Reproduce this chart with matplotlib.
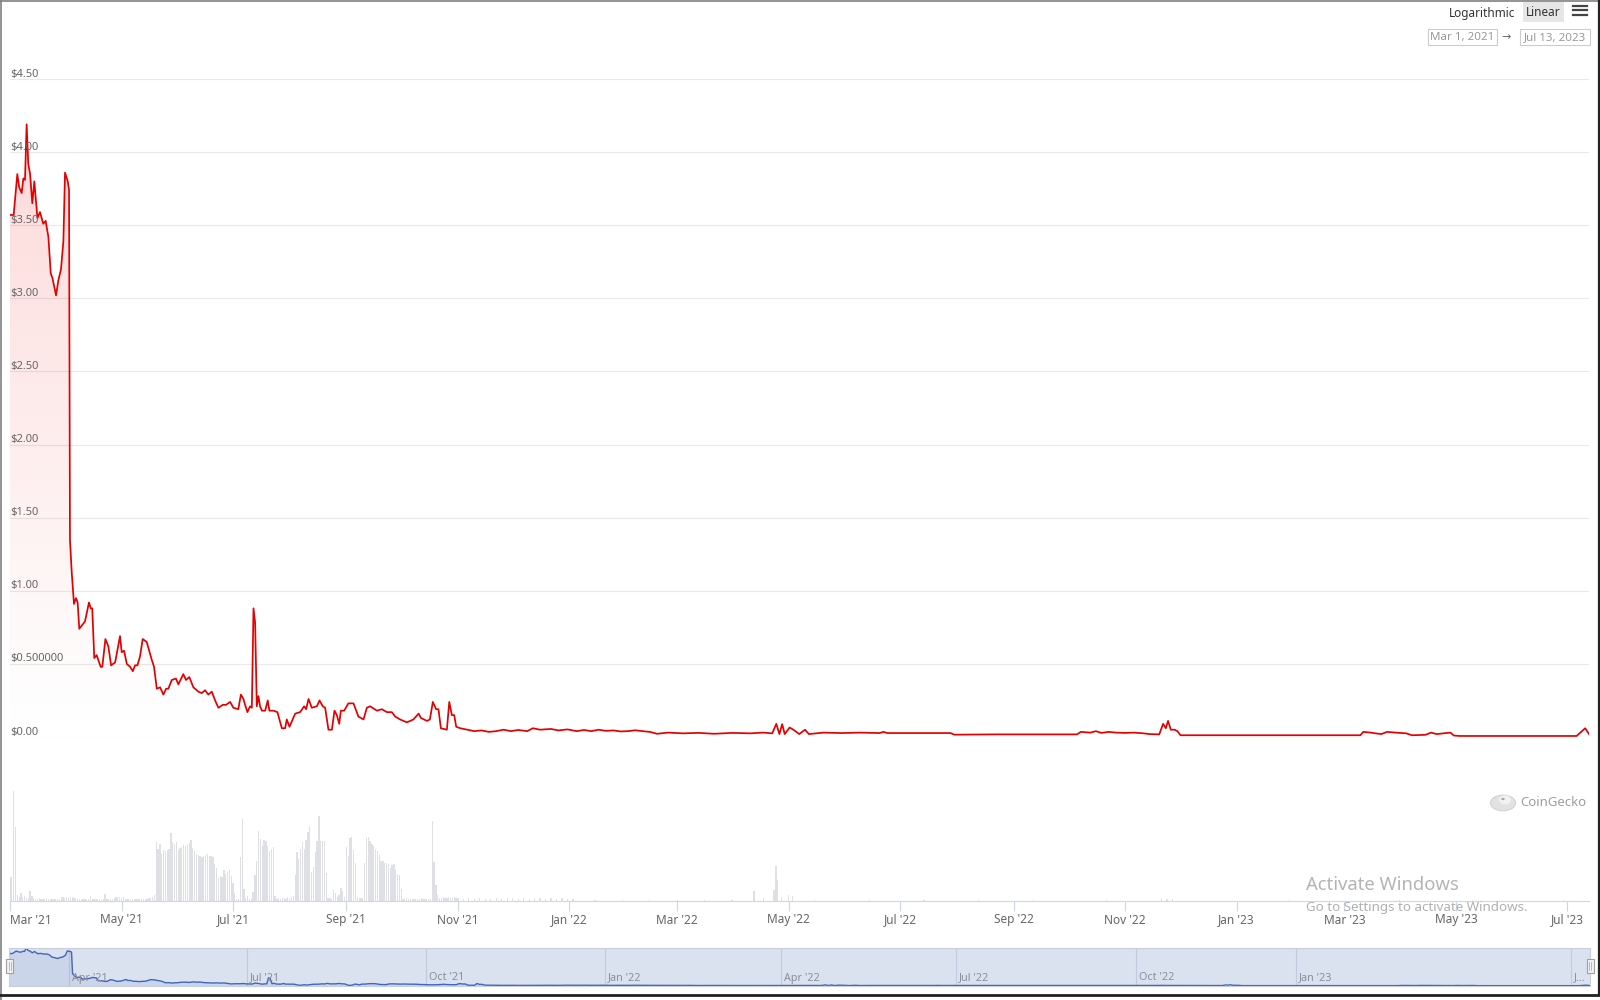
import numpy as np
import pandas as pd
import matplotlib
matplotlib.use("Agg")
import matplotlib.pyplot as plt
import matplotlib.dates as mdates
from matplotlib.patches import Rectangle, Circle, Ellipse
from matplotlib.lines import Line2D

plt.rcParams['font.family'] = ['Noto Sans', 'DejaVu Sans']

W, H = 1600, 1000
start = pd.Timestamp('2021-03-01')
end = pd.Timestamp('2023-07-13')

# price (USD), x = days after Mar 1, 2021
price_day = [0, 2, 4, 5, 6.4, 7.3, 8.2, 9.1, 10, 11, 12.2, 13.3, 15, 16.4, 18.2, 19.5, 21, 22.3,
             23.2, 25.2, 26.4, 27.9, 29.2, 30.1, 31.6, 32.3, 32.8, 33.8, 35, 36.1, 37, 37.9, 41,
             43.2, 44.2, 45, 46.1, 47.4, 49.6, 50.5, 52.2, 53.8, 55.3, 57.5, 60.2, 61.1, 62.4,
             63.9, 65.7, 67.2, 68.4, 69.7, 71.1, 72.6, 74.8, 77.5, 78.8, 80.3, 82.1, 83.9, 85.4,
             86.6, 88.5, 90.8, 92.1, 94.8, 96.3, 98.1, 100.3, 103.1, 104.9, 106.7, 108.5, 110.4,
             112.2, 114, 116.4, 118.2, 120.4, 122.2, 124.9, 126.3, 127.7, 128.6, 129.9, 131.3,
             132.3, 133.2, 134.1, 135, 135.9, 136.8, 137.8, 139.6, 141, 141.9, 144.1, 146.3,
             148.7, 150.5, 151.4, 152.9, 156, 158.7, 160.9, 162, 163.3, 165.1, 167.9, 169.3,
             171.1, 172.4, 174.2, 176.1, 177.5, 178.8, 180.1, 181, 182.8, 185.1, 187.9, 190.6,
             193.4, 195.2, 197, 200.7, 203.4, 206.2, 208.9, 210.7, 213.4, 217.1, 220.7, 223.5,
             224.8, 228.1, 229.7, 231.3, 233.1, 234.4, 235.7, 239, 240.3, 241.7, 243, 244.1,
             246.3,
             254, 258, 262, 266, 270, 274, 278, 283, 286, 290, 296, 300, 305,
             310, 314, 318, 322, 326, 330, 334, 338, 342, 346, 350, 354,
             360, 368, 377, 385, 395, 405, 412, 417, 419.2, 420.9, 422.4, 423.8, 426.5,
             428.5, 431.8, 434.9, 437, 445, 455, 465, 475.7, 477.8, 480, 495, 514.5, 516.6, 540,
             583.7, 585.8, 591, 594, 597, 601, 605, 610, 615, 620, 623.5, 628.7, 630.8, 632.3,
             633.5, 635, 637, 638.6, 640.3, 738.7, 740.3, 744.3, 747, 750.2, 753.3, 758, 763.8,
             766.9, 774.3, 777.4, 780.4, 787.9, 789.9, 793.1, 857, 861.7, 864]
price = [3.57, 3.57, 3.85, 3.76, 3.72, 3.82, 3.81, 4.19, 3.92, 3.85, 3.65, 3.80, 3.55, 3.59, 3.51,
         3.53, 3.42, 3.17, 3.14, 3.02, 3.12, 3.20, 3.39, 3.86, 3.80, 3.74, 1.35, 1.12, 0.91, 0.95,
         0.92, 0.74, 0.79, 0.92, 0.88, 0.88, 0.54, 0.56, 0.48, 0.48, 0.67, 0.62, 0.49, 0.51, 0.69,
         0.58, 0.59, 0.50, 0.48, 0.45, 0.49, 0.49, 0.55, 0.67, 0.65, 0.53, 0.48, 0.33, 0.34, 0.29,
         0.33, 0.33, 0.39, 0.40, 0.36, 0.43, 0.39, 0.41, 0.34, 0.31, 0.30, 0.32, 0.29, 0.31, 0.25,
         0.20, 0.22, 0.22, 0.24, 0.20, 0.19, 0.29, 0.26, 0.22, 0.17, 0.21, 0.20, 0.88, 0.78, 0.21,
         0.28, 0.21, 0.18, 0.18, 0.25, 0.18, 0.18, 0.17, 0.06, 0.06, 0.12, 0.07, 0.16, 0.17, 0.21,
         0.19, 0.26, 0.20, 0.21, 0.25, 0.21, 0.20, 0.05, 0.05, 0.18, 0.15, 0.09, 0.18, 0.18, 0.23,
         0.23, 0.14, 0.12, 0.20, 0.21, 0.18, 0.19, 0.17, 0.17, 0.14, 0.12, 0.10, 0.12, 0.16, 0.13,
         0.11, 0.12, 0.24, 0.19, 0.19, 0.06, 0.05, 0.24, 0.15, 0.15, 0.07,
         0.06,
         0.04, 0.045, 0.035, 0.04, 0.05, 0.04, 0.048, 0.04, 0.06, 0.05, 0.055, 0.045, 0.052,
         0.04, 0.048, 0.04, 0.05, 0.042, 0.045, 0.038, 0.04, 0.046, 0.04, 0.035, 0.022,
         0.03, 0.025, 0.028, 0.022, 0.028, 0.025, 0.03, 0.025, 0.09, 0.02, 0.088, 0.02, 0.065,
         0.05, 0.02, 0.05, 0.02, 0.03, 0.027, 0.03, 0.027, 0.035, 0.027, 0.027, 0.027, 0.016,
         0.018, 0.018, 0.035, 0.03, 0.04, 0.028, 0.035, 0.03, 0.028, 0.03, 0.025, 0.02, 0.018,
         0.09, 0.06, 0.11, 0.05, 0.05, 0.04, 0.012, 0.012, 0.035, 0.03, 0.025, 0.02, 0.035, 0.03,
         0.025, 0.012, 0.015, 0.03, 0.02, 0.03, 0.01, 0.007, 0.007, 0.06, 0.016]

# volume (relative), daily from Mar 1, 2021
vol_early = [24, 24, 110, 74, 6, 4, 8, 4, 5, 3, 3, 10, 5, 3,
             2, 2, 3, 2, 2, 2, 3, 2, 2, 2, 2, 2, 2, 2,
             4, 4, 3, 4, 3, 4, 4, 3, 3, 2, 2,
             2, 2, 2, 2, 2, 5, 2, 2, 2, 2, 2, 2,
             2, 7, 2, 2, 2, 2, 3, 4, 4, 4, 3, 4, 2,
             2, 2, 2, 2, 2, 2, 2, 2, 2, 2, 2, 2, 3, 3, 4, 6,
             59, 52, 57, 47, 51, 50, 51, 52, 68, 59, 57, 59, 51, 53, 54, 56, 55, 57, 58, 61,
             53, 50, 47, 46, 45, 44, 45, 46, 47, 45, 45, 44, 37, 33, 23, 25, 24, 31, 27, 30,
             31, 25, 18, 8, 2, 2, 44, 82, 12, 3, 5, 2, 2, 9, 26, 40, 70, 62, 55, 61, 60, 55,
             50, 52, 54, 5, 2, 3, 2, 3, 3, 2, 4, 3, 4, 5, 26, 49, 42, 52, 59, 52, 61, 69, 75,
             29, 34, 49, 60, 85, 60, 60, 60, 28, 3, 3, 2, 11, 8, 4, 6, 13, 10, 4, 54, 45, 63,
             64, 51, 38, 4, 3, 3, 3, 38, 63, 64, 60, 57, 55, 52, 50, 46, 40, 40, 38, 38, 37,
             33, 36, 37, 31, 27, 26, 12, 2, 2, 3, 2, 2, 2, 2, 2, 2, 2, 3, 2, 2, 2, 2, 2, 80,
             39, 16, 6, 3, 3, 4, 3, 3, 4, 3, 3, 4, 3, 3]
vol_late_day = [248, 251, 254, 257, 260, 263, 266, 269, 272, 275, 278, 281, 284, 287, 290, 293,
                296, 299, 302, 305, 308, 320, 335, 350, 365, 380, 395, 407, 412, 418, 419, 420,
                422, 426, 428, 440, 470, 500, 530, 560, 600, 630, 633, 636, 700, 760, 800, 850]
vol_late = [2, 3, 2, 3, 2, 2, 3, 2, 3, 3, 2, 3, 2, 3, 3, 2, 3, 2, 3, 2, 2, 1.5, 1.5, 1.5, 1.5,
            1.5, 1.5, 10, 3, 11, 35, 21, 4, 6, 5, 1.5, 1.5, 1.5, 1.5, 1.5, 1.5, 3, 2.5, 2, 1.5,
            1.5, 1.5, 1.5]

y_ticks = [0, 0.5, 1, 1.5, 2, 2.5, 3, 3.5, 4, 4.5]
y_labels = ['$0.00', '$0.500000', '$1.00', '$1.50', '$2.00', '$2.50', '$3.00', '$3.50', '$4.00', '$4.50']
nav_ticks = ['2021-04-01', '2021-07-01', '2021-10-01', '2022-01-01', '2022-04-01',
             '2022-07-01', '2022-10-01', '2023-01-01', '2023-07-01']
nav_labels = ["Apr '21", "Jul '21", "Oct '21", "Jan '22", "Apr '22", "Jul '22", "Oct '22",
              "Jan '23", "J..."]

p_dates = start + pd.to_timedelta(price_day, unit='D')
v_dates = list(start + pd.to_timedelta(np.arange(len(vol_early)), unit='D')) + \
          list(start + pd.to_timedelta(vol_late_day, unit='D'))
v_vals = vol_early + vol_late

fig = plt.figure(figsize=(16, 10), dpi=100)


def fx(px):
    return px / W


def fy(py):
    return 1 - py / H


# ---- price panel
ax = fig.add_axes([fx(10), fy(737), (1589.4 - 10) / W, (737 - 79) / H])
ax.set_facecolor('none')
for s in ax.spines.values():
    s.set_visible(False)
ax.plot(p_dates, price, color='#e30000', lw=1.25, zorder=4, solid_joinstyle='round')
xn = mdates.date2num(p_dates)
poly = ax.fill_between(p_dates, price, 0, color='none', lw=0)
grad = np.zeros((256, 1, 4))
grad[..., 0] = 0.95
grad[..., 3] = np.linspace(0.15, 0.0, 256)[:, None]
im = ax.imshow(grad, aspect='auto', origin='upper', zorder=2,
               extent=[xn[0], xn[-1], 0, max(price)])
im.set_clip_path(poly.get_paths()[0], transform=ax.transData)
ax.set_xlim(start, end)
ax.set_ylim(0, 4.5)
for v, lab in zip(y_ticks, y_labels):
    ax.axhline(v, color='#e9e9e9', lw=0.8, zorder=1)
    ax.annotate(lab, xy=(0, v), xycoords=('axes fraction', 'data'), xytext=(0, 5),
                textcoords='offset pixels', ha='left', va='center', fontsize=8,
                color='#666666', zorder=5)
ax.set_xticks([])
ax.set_yticks([])

# ---- volume panel
axv = fig.add_axes([fx(10), fy(901), (1589.4 - 10) / W, (901 - 790) / H])
axv.bar(v_dates, v_vals, width=0.7, color='#dfe0e6', lw=0)
axv.set_xlim(start, end)
axv.set_ylim(0, 111)
for k in ['top', 'left', 'right']:
    axv.spines[k].set_visible(False)
axv.spines['bottom'].set_color('#ccd6eb')
axv.spines['bottom'].set_linewidth(0.8)
axv.set_yticks([])
x_ticks = pd.date_range('2021-03-01', '2023-07-01', freq='2MS')
x_labels = [d.strftime("%b '%y") for d in x_ticks]
axv.set_xticks(x_ticks, labels=x_labels)
axv.tick_params(axis='x', length=7, width=0.8, color='#ccd6eb', labelcolor='#666666',
                labelsize=8.5, pad=2)
axv.get_xticklabels()[0].set_horizontalalignment('left')

# ---- navigator (ordinal-like scale)
anc_day = np.array([-20, 0, 31, 122, 214, 306, 396, 487, 579, 671, 852, 880])
anc_px = np.array([8.5 - 20 * 1.953, 8.5, 69, 246.7, 425.7, 605, 780.6, 956, 1135.7, 1295.7,
                   1571, 1571 + 28 * 1.58])
anc_num = mdates.date2num(start) + anc_day


def nav_fwd(x):
    return np.interp(x, anc_num, anc_px)


def nav_inv(p):
    return np.interp(p, anc_px, anc_num)


axn = fig.add_axes([fx(9), fy(986), (1590 - 9) / W, (986 - 947.7) / H])
axn.set_xscale('function', functions=(nav_fwd, nav_inv))
axn.set_facecolor('#dae1ef')
axn.fill_between(xn, price, -0.1, color='#6685c2', alpha=0.13, lw=0)
axn.plot(xn, price, color='#3d66c2', lw=1.0)
axn.set_xlim(nav_inv(9), nav_inv(1590))
axn.set_ylim(-0.03, 4.22)
axn.set_xticks([])
axn.set_yticks([])
for s in axn.spines.values():
    s.set_color('#c8cedb')
    s.set_linewidth(0.8)
for d, lab in zip(nav_ticks, nav_labels):
    dn = mdates.date2num(pd.Timestamp(d))
    axn.axvline(dn, color='#c2cadd', lw=0.8, zorder=0.5)
    axn.annotate(lab, xy=(dn, 0), xycoords=('data', 'axes fraction'), xytext=(3, 8),
                 textcoords='offset pixels', ha='left', va='center', fontsize=7.8,
                 color='#8a8f9c')

# navigator handles
for hx in [9.5, 1590]:
    fig.add_artist(Rectangle((fx(hx - 3.5), fy(973)), 7 / W, 14 / H, transform=fig.transFigure,
                             facecolor='#f2f2f2', edgecolor='#a0a0a0', lw=0.8))
    fig.add_artist(Line2D([fx(hx - 1), fx(hx - 1)], [fy(962), fy(970)], color='#b0b0b0', lw=0.6))
    fig.add_artist(Line2D([fx(hx + 1), fx(hx + 1)], [fy(962), fy(970)], color='#b0b0b0', lw=0.6))

# ---- top-right controls
fig.text(fx(1482), fy(13), 'Logarithmic', ha='center', va='center', fontsize=8.5, color='#333333')
fig.add_artist(Rectangle((fx(1523), fy(22)), 41 / W, 20 / H, transform=fig.transFigure,
                         facecolor='#e6e6e6', edgecolor='none'))
fig.text(fx(1543.5), fy(12.5), 'Linear', ha='center', va='center', fontsize=8.5, color='#333333')
for ly in [5.5, 10, 14.5]:
    fig.add_artist(Line2D([fx(1573), fx(1587)], [fy(ly), fy(ly)], color='#444444', lw=1.6))
for bx, bw, txt in [(1428, 69, 'Mar 1, 2021'), (1520, 70, 'Jul 13, 2023')]:
    fig.add_artist(Rectangle((fx(bx), fy(45)), bw / W, 16 / H, transform=fig.transFigure,
                             facecolor='white', edgecolor='#cccccc', lw=0.8))
    fig.text(fx(bx + bw / 2), fy(37.5), txt, ha='center', va='center', fontsize=8.3,
             color='#999999')
fig.text(fx(1506.5), fy(38), '\u2192', ha='center', va='center', fontsize=8, color='#666666')

# ---- CoinGecko watermark
fig.add_artist(Circle((fx(1503), fy(803)), 12.5 / W, transform=fig.transFigure,
                      facecolor='#e2e2e2', edgecolor='#d2d2d2', lw=0.8))
fig.add_artist(Ellipse((fx(1505), fy(800)), 12 / W, 9 / H, transform=fig.transFigure,
                       facecolor='#f2f2f2', edgecolor='none'))
fig.add_artist(Circle((fx(1503), fy(799)), 1.8 / W, transform=fig.transFigure,
                      facecolor='#a8a8a8', edgecolor='none'))
fig.text(fx(1520), fy(803), 'CoinGecko', ha='left', va='center', fontsize=9.5, color='#9d9d9d')

# ---- Windows watermark
fig.text(fx(1306), fy(885), 'Activate Windows', ha='left', va='center', fontsize=13.3,
         color='#b4b4b4')
fig.text(fx(1306), fy(907), 'Go to Settings to activate Windows.', ha='left', va='center',
         fontsize=9.6, color='#b0b0b0')

# ---- screenshot frame
fig.add_artist(Line2D([fx(0.5), fx(0.5)], [0, 1], color='#808080', lw=1.2))
fig.add_artist(Line2D([0, 1], [fy(0.5), fy(0.5)], color='#808080', lw=1.2))
fig.add_artist(Line2D([fx(1599), fx(1599)], [fy(995), 1], color='#222222', lw=1.6))
fig.add_artist(Line2D([0, 1], [fy(995), fy(995)], color='#222222', lw=2.0))

fig.savefig('out.png', dpi=100, facecolor='white')
